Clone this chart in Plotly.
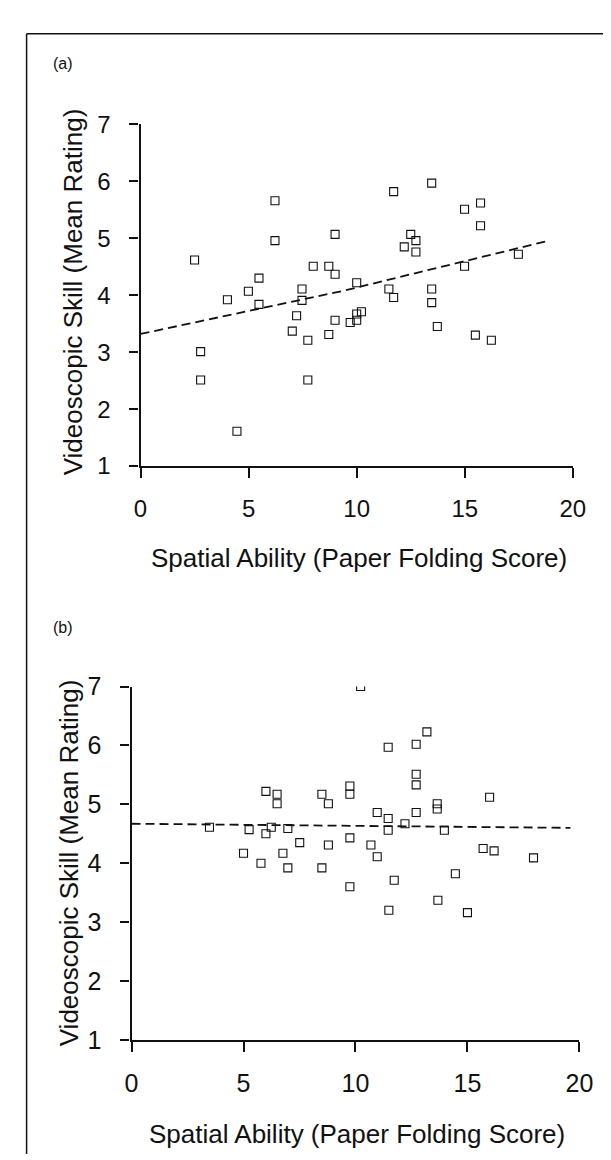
import plotly.graph_objects as go

# Panel (a) data
a_x = [2.5, 2.78, 2.78, 4.02, 4.99, 5.48, 5.48, 6.22, 6.22, 7.02, 7.22, 7.47, 7.47, 7.74, 7.74,
       7.99, 8.71, 8.71, 9.0, 9.0, 9.0, 9.7, 10.0, 10.0, 10.22, 10.0, 11.71, 13.47, 14.99, 15.73,
       15.73, 12.5, 12.74, 12.2, 12.74, 14.99, 17.48, 11.49, 11.71, 13.47, 13.47, 13.73, 15.49,
       16.23, 4.46]
a_y = [4.62, 3.01, 2.51, 3.92, 4.07, 4.30, 3.84, 5.66, 4.96, 3.37, 3.64, 4.11, 3.91, 3.21, 2.51,
       4.51, 4.51, 3.31, 5.07, 4.37, 3.56, 3.52, 3.56, 3.67, 3.71, 4.22, 5.82, 5.97, 5.51, 5.62,
       5.22, 5.07, 4.96, 4.85, 4.76, 4.51, 4.72, 4.11, 3.96, 4.11, 3.87, 3.45, 3.30,
       3.21, 1.61]
a_fit_x = [0, 9.4, 18.9]
a_fit_y = [3.32, 4.08, 4.96]

# Panel (b) data
b_x = [3.48, 5.0, 5.25, 5.78, 6.0, 6.0, 6.24, 6.5, 6.5, 6.76, 6.98, 6.98, 7.51, 8.5, 8.5, 8.79,
       8.79, 9.75, 9.75, 9.75, 9.75, 10.23, 13.19, 11.46, 12.71, 12.71, 12.71, 15.99, 13.65, 13.65,
       10.97, 12.71, 11.46, 12.21, 11.46, 13.97, 10.69, 10.97, 15.70, 16.19, 17.95, 14.46, 11.73,
       13.68, 11.49, 15.0]
b_y = [4.61, 4.17, 4.57, 4.0, 5.22, 4.50, 4.61, 5.17, 5.01, 4.17, 4.59, 3.92, 4.35, 5.17, 3.92, 5.01,
       4.31, 5.31, 5.17, 4.43, 3.60, 7.0, 6.23, 5.97, 6.02, 5.51, 5.33, 5.12, 5.01, 4.92,
       4.86, 4.86, 4.76, 4.67, 4.56, 4.56, 4.31, 4.11, 4.25, 4.21, 4.09, 3.82, 3.71,
       3.37, 3.20, 3.16]
b_fit_x = [0, 19.6]
b_fit_y = [4.67, 4.60]

x_ticks = [0, 5, 10, 15, 20]
y_ticks = [1, 2, 3, 4, 5, 6, 7]
x_title = "Spatial Ability (Paper Folding Score)"
y_title = "Videoscopic Skill (Mean Rating)"
panel_labels = ["(a)", "(b)"]

W, H = 611, 1160
FONT = "Liberation Sans, Arial, sans-serif"
INK = "#111111"

def px(v):
    return v / W

def py(v):
    return 1 - v / H

fig = go.Figure()
marker = dict(symbol="square-open", size=8, color=INK, line=dict(width=1.1, color=INK))
dash = "9px,5px"

fig.add_trace(go.Scatter(x=a_x, y=a_y, mode="markers", marker=marker, xaxis="x", yaxis="y",
                         showlegend=False))
fig.add_trace(go.Scatter(x=a_fit_x, y=a_fit_y, mode="lines", line=dict(color=INK, width=1.8, dash=dash),
                         xaxis="x", yaxis="y", showlegend=False))
fig.add_trace(go.Scatter(x=b_x, y=b_y, mode="markers", marker=marker, xaxis="x2", yaxis="y2",
                         showlegend=False))
fig.add_trace(go.Scatter(x=b_fit_x, y=b_fit_y, mode="lines", line=dict(color=INK, width=1.8, dash=dash),
                         xaxis="x2", yaxis="y2", showlegend=False))

# geometry (pixels)
A = dict(x0=130, x1=577.7, ytop=105, ybot=455, tick=24, title=26, ytc=276, xtc=549, ytx=56)
B = dict(x0=120.7, x1=584.5, ytop=681, ybot=1043, tick=25, title=26, ytc=862, xtc=1140, ytx=52)

def xaxis(g, anchor):
    return dict(domain=[px(g["x0"]), px(g["x1"])], range=[0, 20], anchor=anchor,
                tickvals=x_ticks, ticks="outside", ticklen=10, tickwidth=2, tickcolor=INK,
                showline=True, linewidth=2.2, linecolor=INK, showgrid=False, zeroline=False,
                tickfont=dict(family=FONT, size=g["tick"], color=INK), ticklabelstandoff=10)

def yaxis(g, anchor):
    return dict(domain=[py(g["ybot"]), py(g["ytop"])], range=[1, 7], anchor=anchor,
                tickvals=y_ticks, ticks="outside", ticklen=9, tickwidth=2, tickcolor=INK,
                showline=True, linewidth=2.2, linecolor=INK, showgrid=False, zeroline=False,
                tickfont=dict(family=FONT, size=g["tick"], color=INK), ticklabelstandoff=14)

fig.update_layout(
    width=W, height=H, margin=dict(l=0, r=0, t=0, b=0),
    paper_bgcolor="white", plot_bgcolor="white",
    xaxis=xaxis(A, "y"), yaxis=yaxis(A, "x"),
    xaxis2=xaxis(B, "y2"), yaxis2=yaxis(B, "x2"),
    font=dict(family=FONT, color=INK),
)

annots = []
for g, lab, ly in [(A, panel_labels[0], 43), (B, panel_labels[1], 620)]:
    annots.append(dict(text=lab, x=px(37), y=py(ly), xref="paper", yref="paper", xanchor="left",
                       yanchor="middle", showarrow=False, font=dict(family=FONT, size=16, color=INK)))
    annots.append(dict(text=x_title, x=px((g["x0"] + g["x1"]) / 2 + 2), y=py(g["xtc"]), xref="paper",
                       yref="paper", xanchor="center", yanchor="middle", showarrow=False,
                       font=dict(family=FONT, size=g["title"], color=INK)))
    annots.append(dict(text=y_title, x=px(g["ytx"] + 4), y=py(g["ytc"]), xref="paper",
                       yref="paper", xanchor="center", yanchor="middle", textangle=-90,
                       showarrow=False, font=dict(family=FONT, size=g["title"], color=INK)))
fig.update_layout(annotations=annots)

# outer frame (left and top edges visible in the reference)
fig.add_shape(type="line", xref="paper", yref="paper", x0=px(12), x1=px(12), y0=0, y1=py(12),
              line=dict(color=INK, width=1.5))
fig.add_shape(type="line", xref="paper", yref="paper", x0=px(12), x1=1, y0=py(12), y1=py(12),
              line=dict(color=INK, width=1.5))

fig.write_html("out.html")
